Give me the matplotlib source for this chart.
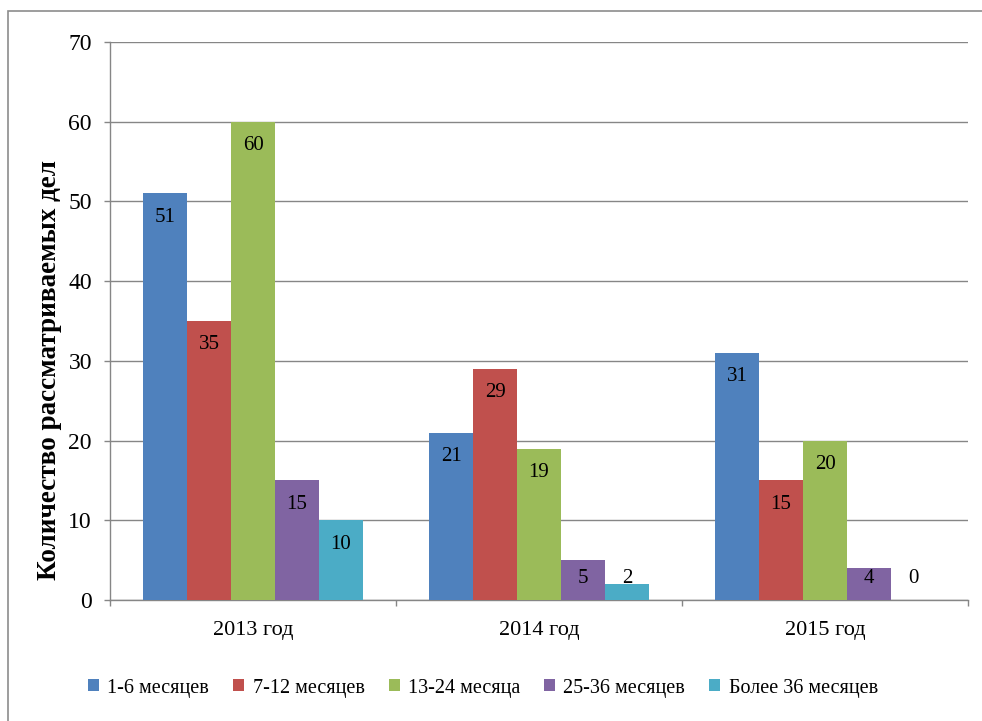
import matplotlib.pyplot as plt
import numpy as np
from matplotlib.patches import Rectangle

years = ["2013 год", "2014 год", "2015 год"]
series_names = ["1-6 месяцев", "7-12 месяцев", "13-24 месяца", "25-36 месяцев", "Более 36 месяцев"]
m1_6 = [51, 21, 31]
m7_12 = [35, 29, 15]
m13_24 = [60, 19, 20]
m25_36 = [15, 5, 4]
m36_plus = [10, 2, 0]
series_values = [m1_6, m7_12, m13_24, m25_36, m36_plus]
colors = ["#4F81BD", "#C0504D", "#9BBB59", "#8064A2", "#4BACC6"]

plt.rcParams["font.family"] = ["Liberation Serif", "DejaVu Serif"]

fig = plt.figure(figsize=(9.82, 7.21), dpi=100)
ax = fig.add_axes([110 / 982, 121 / 721, 858 / 982, 558 / 721])

# outer chart border (top and left visible, rest cut off)
fig.patches.append(Rectangle((8 / 982, -0.1), 1.2, (721 - 11) / 721 + 0.1,
                             transform=fig.transFigure, fill=False,
                             edgecolor="#8c8c8c", linewidth=1.2))

n = len(series_values)
bar_w = 1 / (n + 1.5)
x = np.arange(len(years))
for i, (name, vals, c) in enumerate(zip(series_names, series_values, colors)):
    pos = x + (i - (n - 1) / 2) * bar_w
    ax.bar(pos, vals, width=bar_w, color=c, label=name, zorder=3)
    for p, v in zip(pos, vals):
        # inside-end label, kept above the axis for short bars
        ax.text(p, max(v - 3.0, 2.75), str(v), ha="center", va="center",
                fontsize=15, zorder=4)

ax.set_xlim(-0.5, len(years) - 0.5)
ax.set_ylim(0, 70)
ax.set_yticks(range(0, 71, 10))
ax.set_xticks(x)
ax.set_xticklabels(years, fontsize=16)
ax.set_xticks(np.arange(-0.5, len(years), 1), minor=True)
ax.tick_params(axis="x", which="major", length=0, pad=15)
ax.tick_params(axis="x", which="minor", length=4.5, color="#868686", width=1)
ax.tick_params(axis="y", length=4.5, color="#868686", width=1, labelsize=17, pad=8.5)
ax.grid(axis="y", color="#868686", linewidth=1, zorder=0)

for side in ["top", "right"]:
    ax.spines[side].set_visible(False)
for side in ["left", "bottom"]:
    ax.spines[side].set_color("#868686")
    ax.spines[side].set_linewidth(1)

fig.text(50 / 982, 1 - 370 / 721, "Количество рассматриваемых дел", rotation=90,
         ha="center", va="center", fontsize=19.5, fontweight="bold")

leg = fig.legend(loc="center", bbox_to_anchor=(483 / 982, 1 - 688 / 721), ncol=5,
                 frameon=False, fontsize=14.5, handlelength=0.55, handleheight=0.55,
                 handletextpad=0.4, columnspacing=1.2)

fig.savefig("out.png", dpi=100, facecolor="white")
